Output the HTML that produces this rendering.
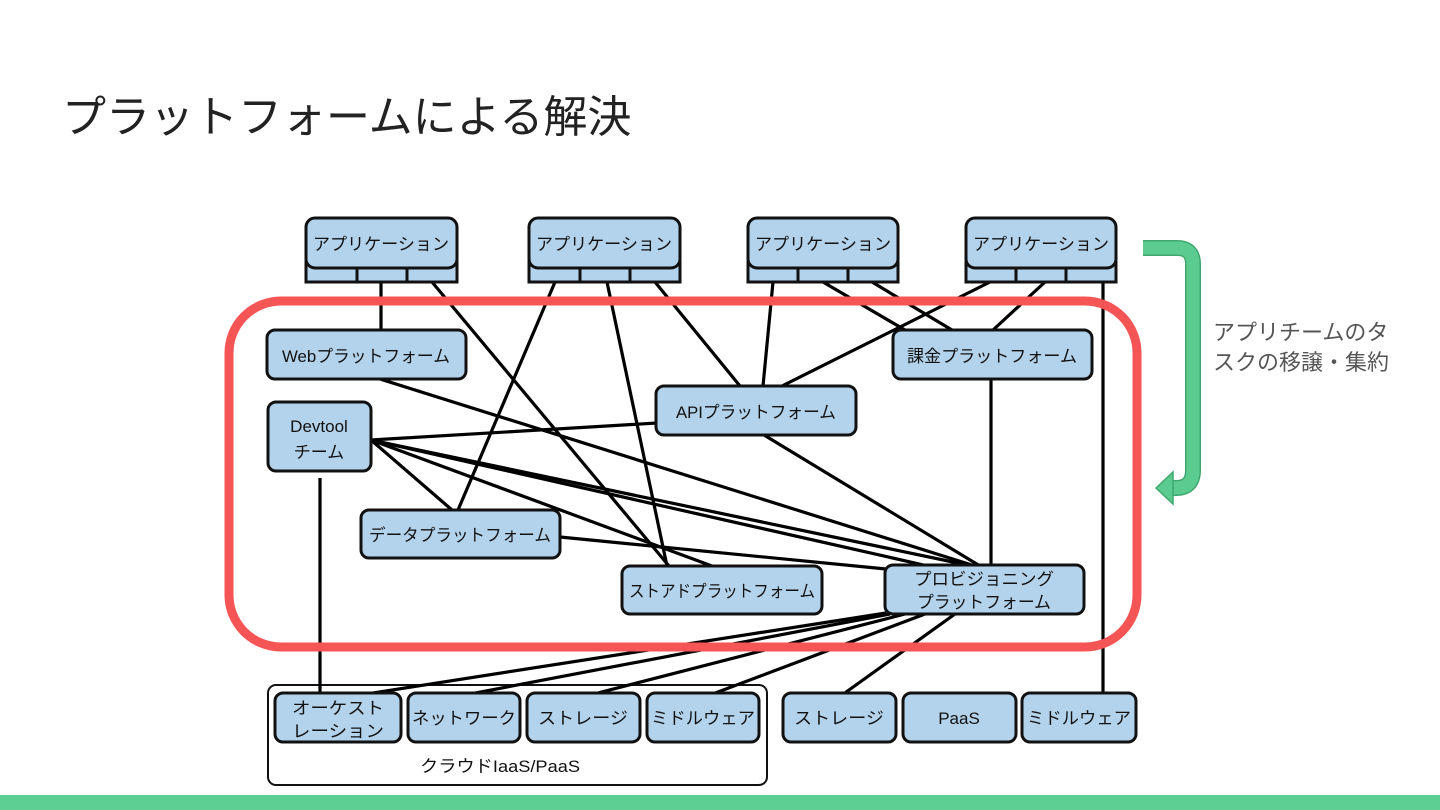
<!DOCTYPE html>
<html><head><meta charset="utf-8"><style>
html,body{margin:0;padding:0;background:#fff;width:1440px;height:810px;overflow:hidden}
svg{display:block}
text{font-family:"Liberation Sans","Noto Sans CJK JP",sans-serif}
</style></head><body>
<svg width="1440" height="810" viewBox="0 0 1440 810">
<text x="62" y="132" font-size="44" fill="#222">プラットフォームによる解決</text>
<rect x="0" y="795" width="1440" height="15" fill="#5ecf92"/>

<rect x="268" y="685" width="499" height="100" rx="8" fill="#fff" stroke="#111" stroke-width="2"/>

<!-- connectors -->
<g stroke="#000" stroke-width="3.2" fill="none">
<line x1="381" y1="282" x2="381" y2="330"/>
<line x1="432" y1="282" x2="669" y2="566"/>
<line x1="555" y1="282" x2="458" y2="510"/>
<line x1="607" y1="282" x2="667" y2="566"/>
<line x1="655" y1="282" x2="740" y2="386"/>
<line x1="773" y1="282" x2="763" y2="386"/>
<line x1="823" y1="282" x2="905" y2="330"/>
<line x1="872" y1="282" x2="952" y2="330"/>
<line x1="990" y1="282" x2="782" y2="386"/>
<line x1="1045" y1="282" x2="993" y2="330"/>
<line x1="1103" y1="282" x2="1103" y2="693"/>
<line x1="991" y1="379" x2="991" y2="566"/>
<line x1="380" y1="379" x2="975" y2="566"/>
<line x1="764" y1="435" x2="980" y2="566"/>
<line x1="371" y1="440" x2="657" y2="423"/>
<line x1="371" y1="440" x2="452" y2="510"/>
<line x1="371" y1="440" x2="712" y2="566"/>
<line x1="371" y1="440" x2="928" y2="566"/>
<line x1="371" y1="440" x2="972" y2="566"/>
<line x1="560" y1="537" x2="886" y2="569"/>
<line x1="320" y1="478" x2="320" y2="693"/>
<line x1="886" y1="613" x2="360" y2="695"/>
<line x1="890" y1="614" x2="465" y2="695"/>
<line x1="905" y1="614" x2="590" y2="695"/>
<line x1="925" y1="614" x2="710" y2="695"/>
<line x1="955" y1="614" x2="842" y2="695"/>
</g>

<!-- red frame -->
<rect x="229" y="301" width="908" height="346" rx="52" fill="none" stroke="#f65555" stroke-width="9"/>

<!-- green arrow -->
<path d="M1143,248 H1177 Q1193,248 1193,264 V470 Q1193,488 1176,488 H1168" fill="none" stroke="#3fa870" stroke-width="16"/>
<path d="M1143,248 H1177 Q1193,248 1193,264 V470 Q1193,488 1176,488 H1168" fill="none" stroke="#5ccb8f" stroke-width="13"/>
<polygon points="1156,488 1173,472 1173,504" fill="#5ccb8f" stroke="#3fa870" stroke-width="1.5"/>
<text x="1213" y="340" font-size="22" fill="#555">アプリチームのタ</text>
<text x="1213" y="370" font-size="22" fill="#555">スクの移譲・集約</text>

<!-- apps -->
<g stroke="#111" stroke-width="3" fill="#b3d3ec">
<g><rect x="306" y="262" width="151" height="20"/><line x1="357" y1="268" x2="357" y2="282"/><line x1="407" y1="268" x2="407" y2="282"/><rect x="306" y="218" width="151" height="50" rx="9"/></g>
<g><rect x="529" y="262" width="151" height="20"/><line x1="580" y1="268" x2="580" y2="282"/><line x1="630" y1="268" x2="630" y2="282"/><rect x="529" y="218" width="151" height="50" rx="9"/></g>
<g><rect x="748" y="262" width="150" height="20"/><line x1="798" y1="268" x2="798" y2="282"/><line x1="848" y1="268" x2="848" y2="282"/><rect x="748" y="218" width="150" height="50" rx="9"/></g>
<g><rect x="966" y="262" width="150" height="20"/><line x1="1016" y1="268" x2="1016" y2="282"/><line x1="1066" y1="268" x2="1066" y2="282"/><rect x="966" y="218" width="150" height="50" rx="9"/></g>
<rect x="267" y="330" width="199" height="49" rx="8"/>
<rect x="268" y="402" width="103" height="69" rx="8"/>
<rect x="656" y="386" width="200" height="49" rx="8"/>
<rect x="893" y="330" width="199" height="49" rx="8"/>
<rect x="361" y="510" width="199" height="48" rx="8"/>
<rect x="622" y="566" width="200" height="48" rx="8"/>
<rect x="885" y="565" width="199" height="49" rx="8"/>
<rect x="275" y="693" width="126" height="49" rx="8"/>
<rect x="408" y="693" width="112" height="49" rx="8"/>
<rect x="527" y="693" width="113" height="49" rx="8"/>
<rect x="647" y="693" width="112" height="49" rx="8"/>
<rect x="783" y="693" width="113" height="49" rx="8"/>
<rect x="903" y="693" width="113" height="49" rx="8"/>
<rect x="1022" y="693" width="114" height="49" rx="8"/>
</g>

<g font-size="17" fill="#111" text-anchor="middle">
<text x="381" y="250" textLength="136" lengthAdjust="spacingAndGlyphs">アプリケーション</text>
<text x="604" y="250" textLength="136" lengthAdjust="spacingAndGlyphs">アプリケーション</text>
<text x="823" y="250" textLength="136" lengthAdjust="spacingAndGlyphs">アプリケーション</text>
<text x="1041" y="250" textLength="136" lengthAdjust="spacingAndGlyphs">アプリケーション</text>
<text x="366" y="362" textLength="168" lengthAdjust="spacingAndGlyphs">Webプラットフォーム</text>
<text x="319" y="432">Devtool</text>
<text x="319" y="458">チーム</text>
<text x="756" y="418" textLength="160" lengthAdjust="spacingAndGlyphs">APIプラットフォーム</text>
<text x="992" y="362" textLength="170" lengthAdjust="spacingAndGlyphs">課金プラットフォーム</text>
<text x="460" y="541" textLength="182" lengthAdjust="spacingAndGlyphs">データプラットフォーム</text>
<text x="722" y="597" textLength="186" lengthAdjust="spacingAndGlyphs">ストアドプラットフォーム</text>
<text x="984" y="585" textLength="140" lengthAdjust="spacingAndGlyphs">プロビジョニング</text>
<text x="984" y="608" textLength="134" lengthAdjust="spacingAndGlyphs">プラットフォーム</text>
<text x="338" y="714" textLength="92" lengthAdjust="spacingAndGlyphs">オーケスト</text>
<text x="338" y="737" textLength="92" lengthAdjust="spacingAndGlyphs">レーション</text>
<text x="464" y="724" textLength="104" lengthAdjust="spacingAndGlyphs">ネットワーク</text>
<text x="583" y="724" textLength="90" lengthAdjust="spacingAndGlyphs">ストレージ</text>
<text x="703" y="724" textLength="104" lengthAdjust="spacingAndGlyphs">ミドルウェア</text>
<text x="839" y="724" textLength="90" lengthAdjust="spacingAndGlyphs">ストレージ</text>
<text x="959" y="724">PaaS</text>
<text x="1079" y="724" textLength="104" lengthAdjust="spacingAndGlyphs">ミドルウェア</text>
<text x="500" y="772" textLength="160" lengthAdjust="spacingAndGlyphs">クラウドIaaS/PaaS</text>
</g>
</svg>
</body></html>
